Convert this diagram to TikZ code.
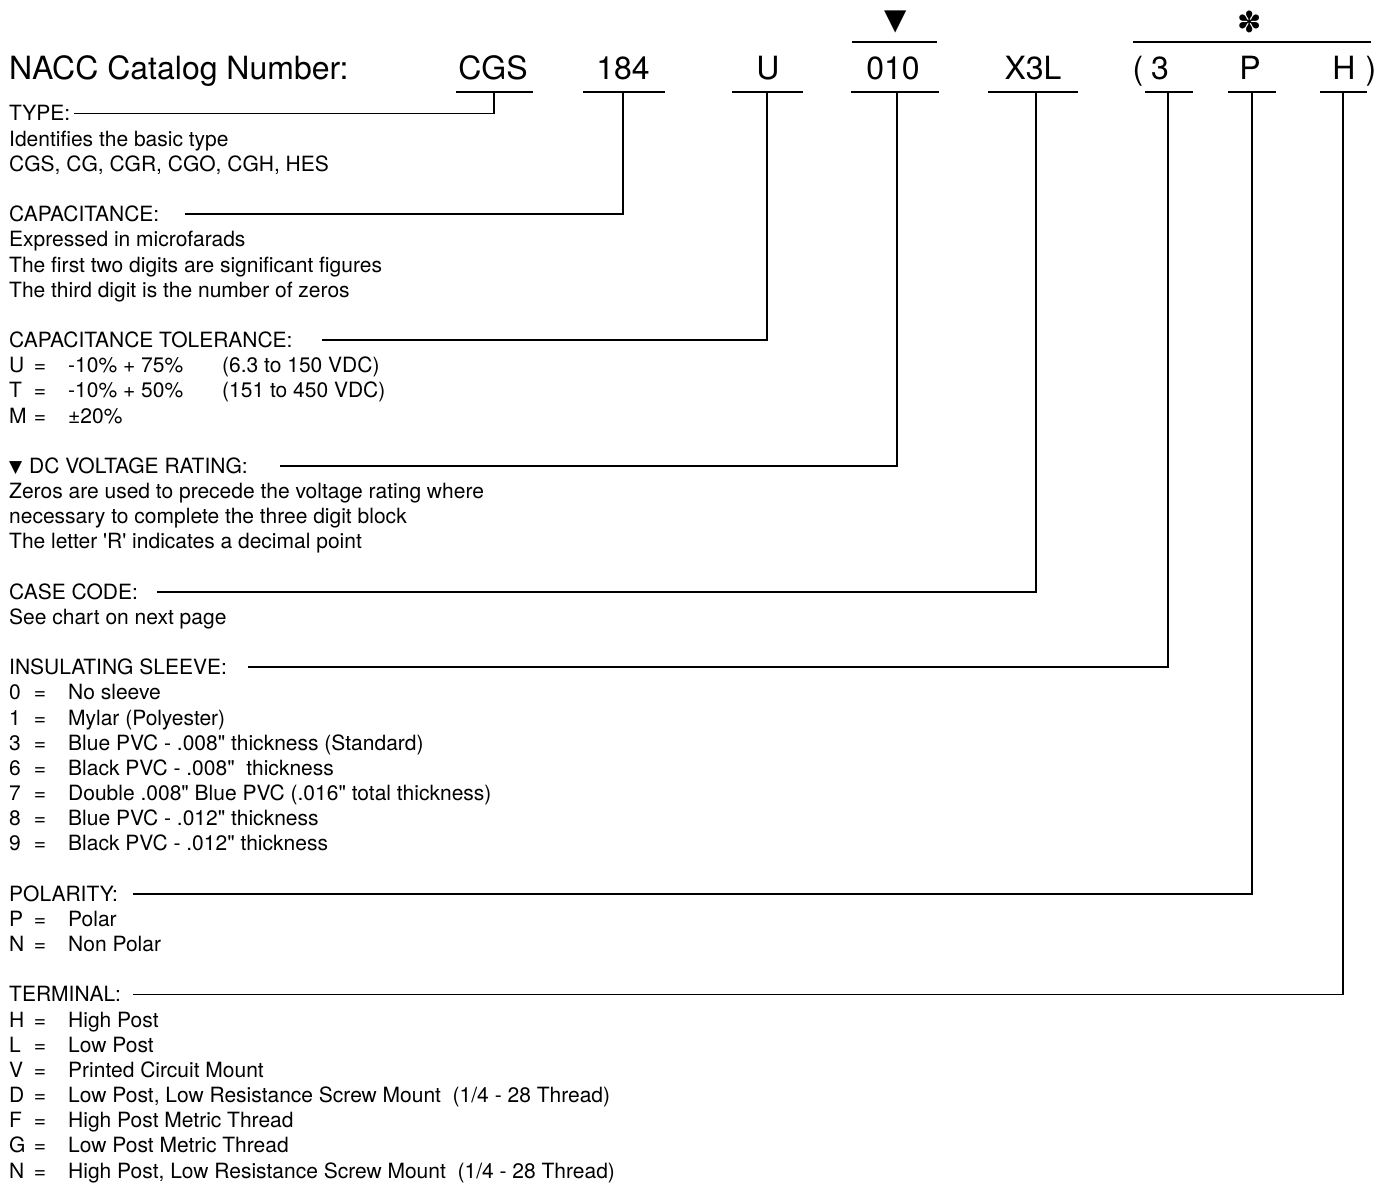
\documentclass[tikz,border=0pt]{standalone}
\usepackage{fontspec}
\setmainfont{TeX Gyre Heros}
\newfontfamily\symfont{DejaVu Sans}
\newcommand\txtline[3]{\node[txt] (#1) at (9,{113.5+25.17*(#2)}) {#3};}
\newcommand\codeline[4]{%
  \node[txt] (#1k) at (9,{113.5+25.17*(#2)}) {#3};
  \node[txt,anchor=center] (#1e) at (40,{113.5+25.17*(#2)}) {=};
  \node[txt] (#1t) at (68,{113.5+25.17*(#2)}) {#4};}
\newcommand\qd{\textquotedbl}
\begin{document}
\begin{tikzpicture}[x=1pt,y=-1pt,
  txt/.style={inner sep=0pt, anchor=west, text height=15pt, text depth=0pt, font=\fontsize{21}{25}\selectfont},
  code/.style={inner sep=0pt, anchor=base, font=\fontsize{32}{38}\selectfont},
  sym/.style={inner sep=0pt, font=\symfont\fontsize{29}{29}\selectfont},
  rule/.style={line width=1.8pt},
  lead/.style={line width=1.8pt}]
\fill[white] (0,0) rectangle (1389,1193);
\useasboundingbox (0,0) rectangle (1389,1193);

% title and code row
\node[code, anchor=base west] (title) at (9,80) {NACC Catalog Number:};
\node[code] (cCGS) at (493,80) {CGS};
\node[code] (c184) at (623,80) {184};
\node[code] (cU) at (768,80) {U};
\node[code] (c010) at (893,80) {010};
\node[code] (cX3L) at (1033,80) {X3L};
\node[code] (cOpen) at (1138,80) {(};
\node[code] (c3) at (1160,80) {3};
\node[code] (cP) at (1250,80) {P};
\node[code] (cH) at (1344,80) {H};
\node[code] (cClose) at (1371,80) {)};

% marks above
\node[sym] (tri) at (896,22) {▼};
\node[sym] (star) at (1250,22) {✽};
\draw[rule] (852,42) -- (937,42);
\draw[rule] (1133,42) -- (1371,42);

% underlines
\draw[rule] (456,92) -- (533,92);
\draw[rule] (583,92) -- (665,92);
\draw[rule] (732,92) -- (803,92);
\draw[rule] (851,92) -- (939,92);
\draw[rule] (988,92) -- (1078,92);
\draw[rule] (1145,92) -- (1193,92);
\draw[rule] (1228,92) -- (1276,92);
\draw[rule] (1320,92) -- (1367,92);
\coordinate (vCGS) at (494,92);
\coordinate (v184) at (623,92);
\coordinate (vU) at (767,92);
\coordinate (v010) at (897,92);
\coordinate (vX3L) at (1036,92);
\coordinate (v3) at (1168,92);
\coordinate (vP) at (1252,92);
\coordinate (vH) at (1343,92);

% TYPE
\txtline{hType}{0}{TYPE:}
\txtline{type1}{1}{Identifies the basic type}
\txtline{type2}{2}{CGS, CG, CGR, CGO, CGH, HES}
% CAPACITANCE
\txtline{hCap}{4}{CAPACITANCE:}
\txtline{cap1}{5}{Expressed in microfarads}
\txtline{cap2}{6}{The first two digits are significant figures}
\txtline{cap3}{7}{The third digit is the number of zeros}
% TOLERANCE
\txtline{hTol}{9}{CAPACITANCE TOLERANCE:}
\codeline{tolU}{10}{U}{-10\% + 75\%}
\node[txt] (tolUr) at (222,{113.5+25.17*10}) {(6.3 to 150 VDC)};
\codeline{tolT}{11}{T}{-10\% + 50\%}
\node[txt] (tolTr) at (222,{113.5+25.17*11}) {(151 to 450 VDC)};
\codeline{tolM}{12}{M}{±20\%}
% DC VOLTAGE
\txtline{hDC}{14}{{\symfont\fontsize{17}{17}\selectfont\raisebox{0.5pt}{▼}}\hspace{1pt} DC VOLTAGE RATING:}
\txtline{dc1}{15}{Zeros are used to precede the voltage rating where}
\txtline{dc2}{16}{necessary to complete the three digit block}
\txtline{dc3}{17}{The letter \textquotesingle R\textquotesingle\ indicates a decimal point}
% CASE CODE
\txtline{hCase}{19}{CASE CODE:}
\txtline{case1}{20}{See chart on next page}
% SLEEVE
\txtline{hSleeve}{22}{INSULATING SLEEVE:}
\codeline{sl0}{23}{0}{No sleeve}
\codeline{sl1}{24}{1}{Mylar (Polyester)}
\codeline{sl3}{25}{3}{Blue PVC - .008\qd{} thickness (Standard)}
\codeline{sl6}{26}{6}{Black PVC - .008\qd\ \ thickness}
\codeline{sl7}{27}{7}{Double .008\qd{} Blue PVC (.016\qd{} total thickness)}
\codeline{sl8}{28}{8}{Blue PVC - .012\qd{} thickness}
\codeline{sl9}{29}{9}{Black PVC - .012\qd{} thickness}
% POLARITY
\txtline{hPol}{31}{POLARITY:}
\codeline{polP}{32}{P}{Polar}
\codeline{polN}{33}{N}{Non Polar}
% TERMINAL
\txtline{hTerm}{35}{TERMINAL:}
\codeline{tH}{36}{H}{High Post}
\codeline{tL}{37}{L}{Low Post}
\codeline{tV}{38}{V}{Printed Circuit Mount}
\codeline{tD}{39}{D}{Low Post, Low Resistance Screw Mount\ \ (1/4 - 28 Thread)}
\codeline{tF}{40}{F}{High Post Metric Thread}
\codeline{tG}{41}{G}{Low Post Metric Thread}
\codeline{tN}{42}{N}{High Post, Low Resistance Screw Mount\ \ (1/4 - 28 Thread)}

% leaders
\draw[lead] (74,0 |- hType.east) -| (vCGS);
\draw[lead] (185,0 |- hCap.east) -| (v184);
\draw[lead] (322,0 |- hTol.east) -| (vU);
\draw[lead] (280,0 |- hDC.east) -| (v010);
\draw[lead] (157,0 |- hCase.east) -| (vX3L);
\draw[lead] (248,0 |- hSleeve.east) -| (v3);
\draw[lead] (133,0 |- hPol.east) -| (vP);
\draw[lead] (133,0 |- hTerm.east) -| (vH);
\end{tikzpicture}
\end{document}
